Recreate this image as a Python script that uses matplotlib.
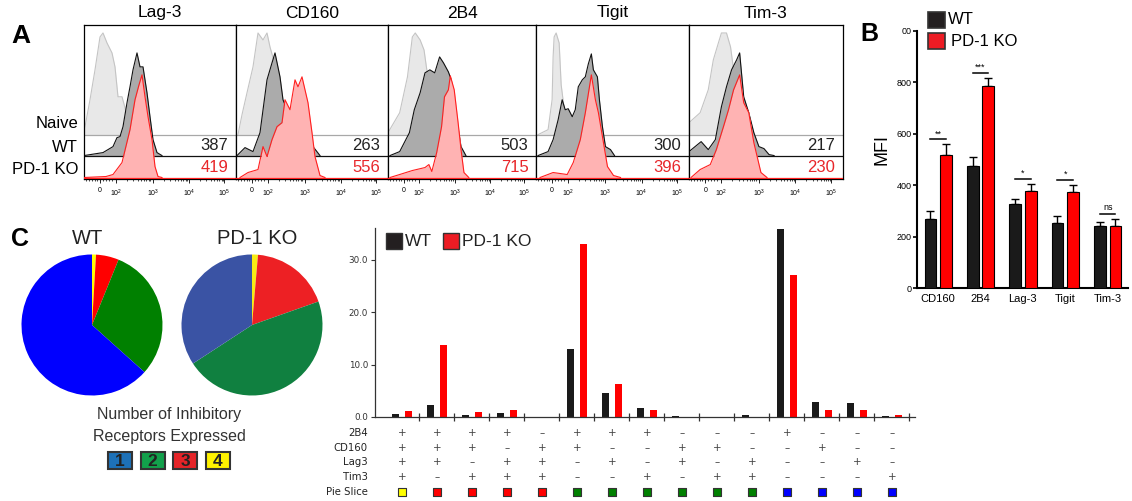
import numpy as np
import matplotlib
matplotlib.use('Agg')
import matplotlib.pyplot as plt
from matplotlib.patches import Rectangle

plt.rcParams['font.family'] = ['Liberation Sans', 'DejaVu Sans']

W, H = 1132, 501

# ---- panel A: histograms, (channel, height) ----
A_MARKERS = ['Lag-3', 'CD160', '2B4', 'Tigit', 'Tim-3']
A_WT_MFI = [387, 263, 503, 300, 217]
A_KO_MFI = [419, 556, 715, 396, 230]
A_ROWS = ['Naive', 'WT', 'PD-1 KO']

LAG3_NAIVE = [(0, 5), (1, 8), (6, 35), (11, 65), (16, 98), (19, 102), (23, 92), (28, 82), (31, 68),
              (34, 38), (38, 38), (41, 27), (44, 12), (48, 0)]
LAG3_WT = [(0, 0), (19, 3), (29, 9), (33, 18), (36, 19), (39, 29), (43, 53), (46, 69), (49, 86),
           (53, 103), (56, 89), (59, 89), (63, 63), (66, 39), (69, 16), (73, 3), (78, 0)]
LAG3_KO = [(0, 0), (22, 1), (29, 3), (38, 15), (46, 48), (51, 78), (55, 93), (58, 103), (61, 81),
           (64, 61), (68, 38), (71, 11), (74, 1), (78, 0)]

CD160_NAIVE = [(2, 0), (6, 20), (11, 42), (17, 68), (22, 102), (27, 95), (31, 102), (34, 88),
               (39, 70), (44, 40), (49, 15), (54, 0)]
CD160_WT = [(1, 0), (9, 8), (17, 4), (24, 23), (31, 76), (36, 93), (39, 103), (44, 79), (47, 56),
            (51, 46), (59, 40), (67, 25), (77, 9), (84, 0)]
CD160_KO = [(4, 0), (12, 5), (22, 8), (27, 31), (31, 21), (36, 38), (41, 51), (46, 55), (49, 78),
            (54, 68), (59, 98), (62, 91), (66, 101), (69, 88), (72, 75), (76, 45), (79, 21), (84, 2), (89, 0)]

B4_NAIVE = [(0, 2), (12, 22), (20, 58), (25, 98), (28, 102), (33, 95), (37, 85), (42, 50), (48, 0)]
B4_WT = [(2, 0), (12, 4), (22, 23), (27, 46), (33, 63), (38, 83), (43, 86), (48, 83), (53, 99),
         (57, 93), (62, 84), (65, 76), (70, 40), (75, 9), (80, 0)]
B4_KO = [(2, 0), (12, 3), (25, 7), (38, 10), (42, 13), (45, 6), (50, 25), (55, 51), (58, 81),
         (62, 88), (64, 102), (68, 88), (72, 55), (75, 28), (78, 5), (83, 0)]

TIGIT_NAIVE = [(2, 0), (12, 5), (16, 35), (17, 78), (18, 98), (20, 102), (23, 92), (25, 50),
               (30, 10), (34, 0)]
TIGIT_WT = [(2, 0), (12, 4), (17, 16), (22, 36), (26, 56), (29, 46), (32, 47), (36, 39), (39, 46),
            (42, 69), (46, 76), (49, 79), (52, 92), (55, 102), (57, 86), (61, 79), (63, 56), (66, 29),
            (69, 9), (74, 6), (78, 0)]
TIGIT_KO = [(4, 0), (17, 5), (31, 3), (37, 15), (44, 38), (49, 65), (55, 103), (59, 78), (62, 65),
            (66, 41), (71, 11), (77, 2), (84, 0)]

TIM3_NAIVE = [(0, 12), (11, 22), (19, 45), (24, 75), (29, 92), (32, 102), (37, 102), (41, 88),
              (46, 50), (51, 0)]
TIM3_WT = [(0, 4), (12, 14), (19, 6), (26, 16), (32, 49), (37, 69), (42, 86), (47, 96), (50, 103),
           (54, 59), (59, 43), (64, 23), (69, 9), (74, 7), (79, 1), (84, 0)]
TIM3_KO = [(2, 0), (11, 8), (21, 13), (27, 28), (34, 51), (39, 68), (44, 88), (50, 103), (54, 75),
           (59, 65), (64, 35), (71, 5), (77, 0)]

A_CURVES = [(LAG3_NAIVE, LAG3_WT, LAG3_KO), (CD160_NAIVE, CD160_WT, CD160_KO),
            (B4_NAIVE, B4_WT, B4_KO), (TIGIT_NAIVE, TIGIT_WT, TIGIT_KO),
            (TIM3_NAIVE, TIM3_WT, TIM3_KO)]

# ---- panel B: MFI bars ----
B_MARKERS = ['CD160', '2B4', 'Lag-3', 'Tigit', 'Tim-3']
B_WT = [268, 475, 328, 253, 240]
B_WT_ERR = [33, 35, 20, 28, 18]
B_KO = [516, 787, 378, 373, 243]
B_KO_ERR = [43, 30, 28, 29, 27]
B_SIG = ['**', '***', '*', '*', 'ns']

# ---- panel C: receptor combinations ----
C_RECEPTORS = ['2B4', 'CD160', 'Lag3', 'Tim3']
C_COMBOS = ['++++', '+++-', '++-+', '+-++', '-+++', '++--', '+-+-', '+--+',
            '-++-', '-+-+', '--++', '+---', '-+--', '--+-', '---+']
C_WT = [0.6, 2.2, 0.45, 0.8, 0.0, 13.0, 4.6, 1.8, 0.25, 0.0, 0.45, 35.9, 2.9, 2.7, 0.25]
C_KO = [1.2, 13.7, 1.0, 1.4, 0.0, 33.0, 6.3, 1.4, 0.05, 0.0, 0.05, 27.1, 1.4, 1.4, 0.3]
N_EXPRESSED = [1, 2, 3, 4]


def rect(l, t, r, b):
    return [l / W, 1 - b / H, (r - l) / W, (b - t) / H]


def ftext(x, y, s, **kw):
    fig.text(x / W, 1 - y / H, s, **kw)


def fbox(x, y, w, h, color, lw=1.2):
    fig.patches.append(Rectangle((x / W, 1 - (y + h) / H), w / W, h / H, transform=fig.transFigure,
                                 facecolor=color, edgecolor='#333333', lw=lw))


fig = plt.figure(figsize=(W / 100, H / 100), dpi=100)

# ================= A =================
edges = [84, 236, 388, 536, 689, 843]
bases = [43, 22, 0]
styles = [('#E8E8E8', '#C4C4C4', '#A8A8A8'), ('#ABABAB', '#111111', '#111111'),
          ('#FFB3B3', '#FF1F1F', '#FF1F1F')]
minor = [2, 5, 8, 11, 13, 19, 22, 25, 28]
for d in [32, 69, 105]:
    minor += [d + 36 * np.log10(k) for k in range(2, 10)]
for i, name in enumerate(A_MARKERS):
    ax = fig.add_axes(rect(edges[i], 25, edges[i + 1], 179))
    ax.set_xlim(0, 152)
    ax.set_ylim(-1.5, 153)
    for j, curve in enumerate(A_CURVES[i]):
        xs = np.array([p[0] for p in curve], float)
        hs = np.array([p[1] for p in curve], float)
        fc, ec, bc = styles[j]
        z = j + 1
        ax.fill_between(xs, bases[j], bases[j] + hs, color=fc, lw=0, zorder=z)
        ax.plot(xs, bases[j] + hs, color=ec, lw=0.8, zorder=z + 0.1)
        ax.axhline(bases[j], color=bc, lw=0.9, zorder=z + 0.1)
    ax.text(0.95, 32, str(A_WT_MFI[i]), transform=ax.get_yaxis_transform(), ha='right',
            va='center', fontsize=12, color='#222222', zorder=6)
    ax.text(0.95, 10, str(A_KO_MFI[i]), transform=ax.get_yaxis_transform(), ha='right',
            va='center', fontsize=12, color='#E8262A', zorder=6)
    ax.set_xticks([16, 32, 69, 105, 140])
    ax.set_xticklabels(['0', r'$\mathregular{10^2}$', r'$\mathregular{10^3}$',
                        r'$\mathregular{10^4}$', r'$\mathregular{10^5}$'])
    ax.set_xticks(minor, minor=True)
    ax.tick_params(axis='x', which='major', length=3, width=0.6, labelsize=5, pad=3)
    ax.tick_params(axis='x', which='minor', length=1.6, width=0.5)
    ax.set_yticks([])
    for s in ax.spines.values():
        s.set_linewidth(0.9)
    ftext((edges[i] + edges[i + 1]) / 2, 13, name, ha='center', va='center', fontsize=12.5)

for lab, y in zip(A_ROWS, [124, 147, 170]):
    ftext(78, y, lab, ha='right', va='center', fontsize=12)
ftext(11, 36, 'A', ha='left', va='center', fontsize=19, fontweight='bold')

# ================= C : combination bars =================
axC = fig.add_axes(rect(375, 228, 915, 417))
axC.patch.set_visible(False)
xc = np.arange(len(C_COMBOS))
axC.bar(xc - 0.183, C_WT, 0.2, color='#1A1A1A', lw=0)
axC.bar(xc + 0.183, C_KO, 0.2, color='#FF0000', lw=0)
axC.set_xlim(-0.77, 14.66)
axC.set_ylim(0, 36.07)
axC.set_yticks([0, 10, 20, 30])
axC.set_yticklabels(['0.0', '10.0', '20.0', '30.0'], family='DejaVu Sans')
axC.set_xticks(xc + 0.5)
axC.set_xticklabels([])
axC.tick_params(axis='y', labelsize=6.3, length=3, width=0.8, pad=2, colors='#333333')
axC.tick_params(axis='x', direction='inout', length=6, width=0.9, color='#333333')
for s in ['top', 'right']:
    axC.spines[s].set_visible(False)
for s in ['left', 'bottom']:
    axC.spines[s].set_linewidth(0.9)
    axC.spines[s].set_color('#333333')
fbox(386, 233, 16, 16, '#231F20', lw=1.0)
fbox(443, 233, 16, 16, '#ED1C24', lw=1.0)
ftext(405, 241, 'WT', ha='left', va='center', fontsize=12.5, color='#222222')
ftext(462, 241, 'PD-1 KO', ha='left', va='center', fontsize=12.5, color='#222222')

tr = axC.get_xaxis_transform()
row_y = [433, 448, 462, 477]
for r, lab in enumerate(C_RECEPTORS):
    yax = (417 - row_y[r]) / 189
    axC.text(-0.013, yax, lab, transform=axC.transAxes, ha='right', va='center',
             fontsize=7.3, family='DejaVu Sans', color='#222222', clip_on=False)
    for k, c in enumerate(C_COMBOS):
        axC.text(k, yax, '+' if c[r] == '+' else '\u2013', transform=tr, ha='center',
                 va='center', fontsize=7.5, family='DejaVu Sans', color='#444444', clip_on=False)
ypie = (417 - 492) / 189
axC.text(-0.013, ypie, 'Pie Slice', transform=axC.transAxes, ha='right', va='center',
         fontsize=7.3, family='DejaVu Sans', color='#222222', clip_on=False)
slice_cols = {4: '#FFFF00', 3: '#FF0000', 2: '#008000', 1: '#0000FF'}
n_plus = [c.count('+') for c in C_COMBOS]
axC.scatter(xc, [ypie] * len(xc), transform=tr, marker='s', s=30,
            c=[slice_cols[n] for n in n_plus], edgecolors='#333333', linewidths=0.8,
            clip_on=False, zorder=5)

# ================= B =================
axB = fig.add_axes(rect(917, 31, 1128, 288))
xb = np.arange(len(B_MARKERS))
off, bw = 0.184, 0.277
axB.bar(xb - off, B_WT, bw, color='#1A1A1A', edgecolor='black', lw=0.8, zorder=3)
axB.bar(xb + off, B_KO, bw, color='#FF0000', edgecolor='black', lw=0.8, zorder=3)
axB.errorbar(xb - off, B_WT, yerr=[np.zeros(5), B_WT_ERR], fmt='none', ecolor='black',
             elinewidth=1, capsize=3, capthick=1, zorder=2)
axB.errorbar(xb + off, B_KO, yerr=[np.zeros(5), B_KO_ERR], fmt='none', ecolor='black',
             elinewidth=1, capsize=3, capthick=1, zorder=2)
for k, sig in enumerate(B_SIG):
    top = max(B_WT[k] + B_WT_ERR[k], B_KO[k] + B_KO_ERR[k]) + 19
    axB.plot([k - off, k + off], [top, top], color='black', lw=1.1)
    axB.text(k, top + (4 if sig != 'ns' else 8), sig, ha='center', va='bottom', fontsize=6.5)
axB.set_xlim(-0.5, 4.48)
axB.set_ylim(0, 1000)
axB.set_yticks([0, 200, 400, 600, 800, 1000])
axB.set_yticklabels(['0', '200', '400', '600', '800', '00'])
axB.set_xticks(xb)
axB.set_xticklabels(B_MARKERS)
axB.tick_params(axis='y', labelsize=6.5, length=3, width=1.2, pad=1)
axB.tick_params(axis='x', labelsize=8, length=0, pad=4)
for s in ['top', 'right']:
    axB.spines[s].set_visible(False)
for s in ['left', 'bottom']:
    axB.spines[s].set_linewidth(1.5)
ftext(882, 150, 'MFI', rotation=90, ha='center', va='center', fontsize=13)
fbox(928, 12, 17, 16, '#231F20')
fbox(928, 33, 17, 16, '#ED1C24')
ftext(948, 20, 'WT', ha='left', va='center', fontsize=12)
ftext(951, 42, 'PD-1 KO', ha='left', va='center', fontsize=12)
ftext(860, 34, 'B', ha='left', va='center', fontsize=18, fontweight='bold')

# ================= C : pies =================
order = [4, 3, 2, 1]
pie_wt = [sum(v for v, n in zip(C_WT, n_plus) if n == m) for m in order]
pie_ko = [sum(v for v, n in zip(C_KO, n_plus) if n == m) for m in order]
wt_cols = ['#FFFF00', '#FF0000', '#008000', '#0000FF']
ko_cols = ['#F7EC13', '#ED2024', '#108040', '#3A53A4']
for cx, vals, cols in [(92, pie_wt, wt_cols), (252, pie_ko, ko_cols)]:
    axp = fig.add_axes(rect(cx - 75, 325 - 75, cx + 75, 325 + 75))
    axp.pie(vals, colors=cols, startangle=90, counterclock=False, radius=70.5 / 75,
            wedgeprops=dict(lw=0))
    axp.set_xlim(-1, 1)
    axp.set_ylim(-1, 1)
    axp.set_aspect('equal')
    axp.axis('off')
ftext(88, 238, 'WT', ha='center', va='center', fontsize=14.5, color='#222222')
ftext(257, 238, 'PD-1 KO', ha='center', va='center', fontsize=14.5, color='#222222')
ftext(11, 239, 'C', ha='left', va='center', fontsize=18, fontweight='bold')

ftext(169, 415, 'Number of Inhibitory', ha='center', va='center', fontsize=11.5, color='#333333')
ftext(169, 436, 'Receptors Expressed', ha='center', va='center', fontsize=11.5, color='#333333')
legend_cols = ['#1D71B8', '#12A04B', '#E52428', '#FFF200']
for k, m in enumerate(N_EXPRESSED):
    x0 = 108 + 32.5 * k
    fbox(x0, 452, 24, 17, legend_cols[k], lw=1.5)
    ftext(x0 + 12, 461, str(m), ha='center', va='center', fontsize=12.5, fontweight='bold',
          color='#222222')

fig.savefig('out.png', dpi=100)
